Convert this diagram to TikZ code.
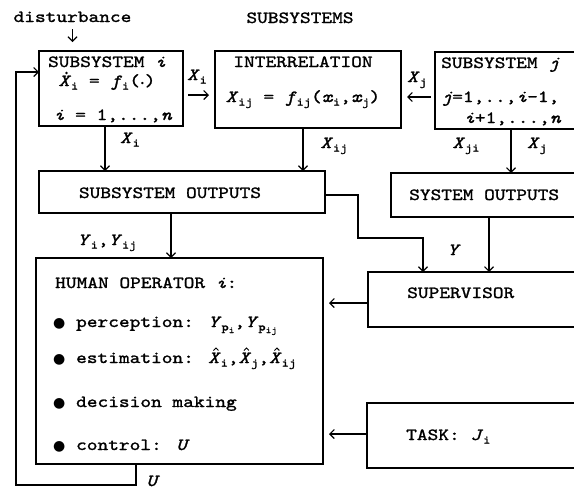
\documentclass[tikz,border=0pt]{standalone}
\usepackage{fontspec}
\usetikzlibrary{arrows.meta}
\newfontfamily\tw{lmmono10-regular}[Extension=.otf, ItalicFont=lmmono10-italic, FakeStretch=1.2, FakeBold=1.4]
\newfontfamily\bulletfont{DejaVu Sans}
\newcommand\sbx[1]{\raisebox{-3.5pt}{\fontsize{11.5}{11.5}\selectfont #1}}
\newcommand\ssbx[1]{\raisebox{-2.5pt}{\fontsize{9}{9}\selectfont #1}}
\newcommand\dotmark{\tikz[baseline=0pt,x=1pt,y=1pt]{\fill (0,0) circle (1.3);}}
\newcommand\accdot[1]{\ooalign{#1\cr\hidewidth\kern3.5pt\raisebox{13pt}{\dotmark}\hidewidth\cr}}
\newcommand\hatmark{\tikz[baseline=0pt,x=1pt,y=1pt]{\draw[line width=0.9pt,line join=miter] (0,0) -- (2.5,2.5) -- (5,0);}}
\newcommand\acchat[1]{\ooalign{#1\cr\hidewidth\kern3pt\raisebox{12.5pt}{\hatmark}\hidewidth\cr}}
\newcommand\bul{{\bulletfont\fontsize{14}{14}\selectfont ●}}
\newcommand\smbul{{\bulletfont\fontsize{8}{8}\selectfont •}}
\tikzset{
  box/.style={draw, line width=1.2pt, inner sep=0pt, outer sep=0pt},
  txt/.style={inner sep=0pt, font=\tw\fontsize{17}{20}\selectfont},
  arr/.style={line width=1.1pt, -{Straight Barb[length=4.5pt,width=9pt,line width=1.1pt]}}
}
\begin{document}
\begin{tikzpicture}[x=1pt,y=-1pt]
\useasboundingbox (0,0) rectangle (574,490);
\clip (0,0) rectangle (574,490);
% boxes
\node[box, minimum width=144pt, minimum height=75pt] (si) at (111,88.5) {};
\node[box, minimum width=186pt, minimum height=77pt] (ir) at (308,89.5) {};
\node[box, minimum width=165pt, minimum height=77pt] (sj) at (517.5,90.5) {};
\node[box, minimum width=286pt, minimum height=42pt] (so) at (182,192) {};
\node[box, minimum width=209pt, minimum height=44pt] (sy) at (495.5,195) {};
\node[box, minimum width=287pt, minimum height=206pt] (ho) at (179.5,361) {};
\node[box, minimum width=232pt, minimum height=55pt] (sv) at (484,299.5) {};
\node[box, minimum width=233pt, minimum height=65pt] (tk) at (483.5,435.5) {};
% texts
\node[txt, anchor=base] (dist) at (72.5,22) {disturbance};
\node[txt, anchor=base] (subs) at (300,23) {SUBSYSTEMS};
\node[txt, anchor=base] (si1) at (107,67) {SUBSYSTEM \textit{i}};
\node[txt, anchor=base] (si2) at (107,86) {\accdot{\textit{X}}\sbx{i} = \textit{f}\sbx{i}(\smbul)};
\node[txt, anchor=base] (si3) at (113,120) {\textit{i} = 1,...,\textit{n}};
\node[txt, anchor=base] (ir1) at (303,67) {INTERRELATION};
\node[txt, anchor=base] (ir2) at (303,102) {\textit{X}\sbx{ij} = \textit{f}\sbx{ij}(\textit{x}\sbx{i},\textit{x}\sbx{j})};
\node[txt, anchor=base west] (sj1) at (441,68) {SUBSYSTEM \textit{j}};
\node[txt, anchor=base west] (sj2) at (441,102) {\textit{j}=1,..,\textit{i}-1,};
\node[txt, anchor=base west] (sj3) at (464,123) {\textit{i}+1,...,\textit{n}};
\node[txt, anchor=base] (so1) at (170,198) {SUBSYSTEM OUTPUTS};
\node[txt, anchor=base west] (sy1) at (409,200) {SYSTEM OUTPUTS};
\node[txt, anchor=base west] (sv1) at (407,298) {SUPERVISOR};
\node[txt, anchor=base west] (tk1) at (406,440) {TASK: \textit{J}\sbx{i}};
\node[txt, anchor=base west] (ho1) at (55,288) {HUMAN OPERATOR \textit{i}:};
\node[txt, anchor=base west] (ho2) at (53,327) {\bul\ perception: \textit{Y}\sbx{p\ssbx{i}},\textit{Y}\sbx{p\ssbx{ij}}};
\node[txt, anchor=base west] (ho3) at (53,363) {\bul\ estimation: \acchat{\textit{X}}\sbx{i},\acchat{\textit{X}}\sbx{j},\acchat{\textit{X}}\sbx{ij}};
\node[txt, anchor=base west] (ho4) at (53,407) {\bul\ decision making};
\node[txt, anchor=base west] (ho5) at (53,450) {\bul\ control: \textit{U}};
% connector labels
\node[txt, anchor=base] (lxi) at (197,80) {\textit{X}\sbx{i}};
\node[txt, anchor=base] (lxj) at (417,82) {\textit{X}\sbx{j}};
\node[txt, anchor=base] (lxi2) at (130,143) {\textit{X}\sbx{i}};
\node[txt, anchor=base] (lxij) at (334,148) {\textit{X}\sbx{ij}};
\node[txt, anchor=base] (lxji) at (466,148) {\textit{X}\sbx{ji}};
\node[txt, anchor=base] (lxj2) at (537,148) {\textit{X}\sbx{j}};
\node[txt, anchor=base] (ly) at (107,245) {\textit{Y}\sbx{i},\textit{Y}\sbx{ij}};
\node[txt, anchor=base] (lY) at (454,255) {\textit{Y}};
\node[txt, anchor=base] (lU) at (153,486) {\textit{U}};
% connectors
\draw[arr] ([yshift=-7pt]dist.south) -- ([yshift=9pt]si.north -| dist.south);
\draw[arr, shorten <=5pt, shorten >=6pt] (si.east |- 0,95) -- (ir.west |- 0,95);
\draw[arr, shorten <=4pt, shorten >=6pt] (sj.west |- 0,97) -- (ir.east |- 0,97);
\draw[arr] (si.south -| 105,0) -- (so.north -| 105,0);
\draw[arr] (ir.south -| 303,0) -- (so.north -| 303,0);
\draw[arr] (sj.south -| 511,0) -- (sy.north -| 511,0);
\draw[arr] (so.south -| 171,0) -- (ho.north -| 171,0);
\draw[arr] (sy.south -| 489,0) -- (sv.north -| 489,0);
\draw[arr] (so.east |- 0,195) -- (358,195) -- (358,238) -- (423,238) -- (sv.north -| 423,0);
\draw[arr, shorten >=6pt] (sv.west |- 0,303) -- (ho.east |- 0,303);
\draw[arr, shorten >=6pt] (tk.west |- 0,434) -- (ho.east |- 0,434);
\draw[arr] (ho.south -| 136,0) -- (136,485) -- (16,485) -- (16,72) -- (si.west |- 0,72);
\end{tikzpicture}
\end{document}
